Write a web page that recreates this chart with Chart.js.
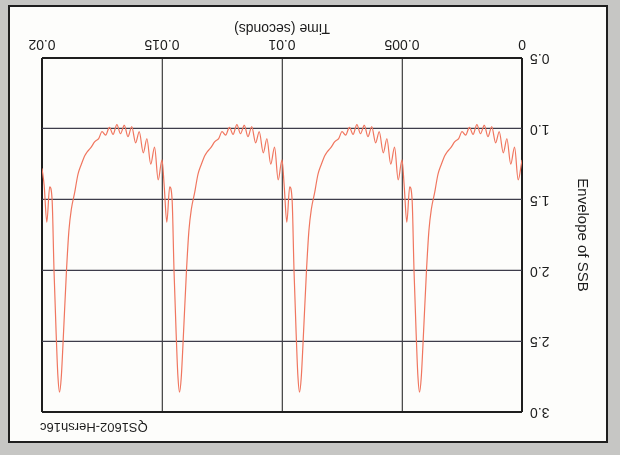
<!DOCTYPE html>
<html>
<head>
<meta charset="utf-8">
<script src="https://cdn.jsdelivr.net/npm/chart.js@4"></script>
<style>
  html, body { margin: 0; padding: 0; background: #c6c6c4; }
  /* the whole sheet is printed upside down */
  #sheet {
    position: relative; width: 620px; height: 455px;
    transform: rotate(180deg); transform-origin: 50% 50%;
  }
  #card {
    position: absolute; left: 12px; top: 12px; width: 600px; height: 438px;
    box-sizing: border-box; background: #fdfdfb; border: 2px solid #1e1e1e;
  }
  #envChart { position: absolute; left: 0; top: 0; }
</style>
</head>
<body>
<div id="sheet">
  <div id="card"></div>
  <canvas id="envChart" width="620" height="455"></canvas>
</div>
<script>
// --- DATA ---
// one period of the envelope, phase in ms from the start of the period
const cyclePhaseMs = [0.00, 0.16, 0.31, 0.47, 0.63, 0.78, 0.95, 1.10, 1.26, 1.42,
                      1.57, 1.73, 1.88, 2.04, 2.19, 2.35, 2.50, 2.64, 2.80, 2.95,
                      3.10, 3.22, 3.36, 3.50, 3.64, 3.78, 3.88, 3.98, 4.12, 4.20,
                      4.27, 4.34, 4.41, 4.50, 4.58, 4.68, 4.80, 4.91];
const cycleEnvelope = [1.22, 1.36, 1.13, 1.25, 1.07, 1.17, 1.02, 1.10, 0.985, 1.055,
                       0.975, 1.035, 0.97, 1.04, 0.99, 1.045, 1.02, 1.07, 1.09, 1.13,
                       1.16, 1.19, 1.25, 1.32, 1.45, 1.57, 1.72, 2.00, 2.50, 2.76,
                       2.86, 2.74, 2.45, 2.00, 1.50, 1.41, 1.66, 1.40];
const periodStarts = [0, 0.005, 0.01, 0.015];
const endPoint = { x: 0.02, y: 1.28 };

const timeTicks = [0, 0.005, 0.01, 0.015, 0.02];
const envTicks = [0.5, 1.0, 1.5, 2.0, 2.5, 3.0];
const figureTag = 'QS1602-Hersh16c';

// build the point list for the line dataset
const envPoints = [];
periodStarts.forEach(t0 => {
    cyclePhaseMs.forEach((ph, i) => {
        envPoints.push({ x: t0 + ph / 1000, y: cycleEnvelope[i] });
    });
});
envPoints.push(endPoint);

// --- CHART ---
const FONT = 'Liberation Sans, Arial, sans-serif';
const INK = '#1c1c1c';

// small tag printed above the top right corner of the plot
const tagPlugin = {
    id: 'figureTag',
    afterDraw(chart) {
        const { ctx, chartArea } = chart;
        ctx.save();
        ctx.font = '13px ' + FONT;
        ctx.fillStyle = INK;
        ctx.textAlign = 'right';
        ctx.textBaseline = 'middle';
        ctx.fillText(figureTag, chartArea.right + 2, chartArea.top - 15);
        ctx.restore();
    }
};

const edgeWidth = (ctx, lo, hi) => {
    const v = ctx.tick ? ctx.tick.value : null;
    return (Math.abs(v - lo) < 1e-9 || Math.abs(v - hi) < 1e-9) ? 2 : 1.3;
};

new Chart(document.getElementById('envChart'), {
    type: 'line',
    data: {
        datasets: [{
            data: envPoints,
            borderColor: '#f0765f',
            borderWidth: 1.2,
            pointRadius: 0,
            fill: false,
            cubicInterpolationMode: 'monotone'
        }]
    },
    options: {
        responsive: false,
        animation: false,
        layout: { padding: { top: 43, right: 42, bottom: 0, left: 0 } },
        plugins: { legend: { display: false }, tooltip: { enabled: false } },
        scales: {
            x: {
                type: 'linear', min: 0, max: 0.02,
                afterBuildTicks: s => { s.ticks = timeTicks.map(v => ({ value: v })); },
                afterFit: s => { s.height = 58; },
                ticks: {
                    color: INK, padding: 6, font: { family: FONT, size: 14 },
                    callback: v => String(v)
                },
                grid: {
                    drawTicks: false,
                    color: ctx => edgeWidth(ctx, 0, 0.02) > 1.5 ? '#1e1e1e' : '#4c4c4c',
                    lineWidth: ctx => edgeWidth(ctx, 0, 0.02)
                },
                border: { display: false },
                title: {
                    display: true, text: 'Time (seconds)', color: INK,
                    font: { family: FONT, size: 14 }, padding: { top: 4, bottom: 19 }
                }
            },
            y: {
                type: 'linear', min: 0.5, max: 3.0,
                afterBuildTicks: s => { s.ticks = envTicks.map(v => ({ value: v })); },
                afterFit: s => { s.width = 98; },
                ticks: {
                    color: INK, padding: 8, font: { family: FONT, size: 14 },
                    callback: v => v.toFixed(1)
                },
                grid: {
                    drawTicks: false,
                    color: ctx => edgeWidth(ctx, 0.5, 3.0) > 1.5 ? '#1e1e1e' : '#3d3c4a',
                    lineWidth: ctx => edgeWidth(ctx, 0.5, 3.0)
                },
                border: { display: false },
                title: {
                    display: true, text: 'Envelope of SSB', color: INK,
                    font: { family: FONT, size: 15 }, padding: { top: 29, bottom: 4 }
                }
            }
        }
    },
    plugins: [tagPlugin]
});
</script>
</body>
</html>
